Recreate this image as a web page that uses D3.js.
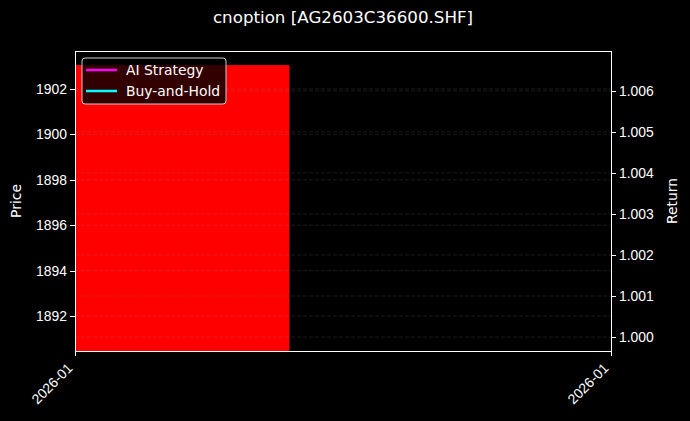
<!DOCTYPE html>
<html>
<head>
<meta charset="utf-8">
<script src="https://cdn.jsdelivr.net/npm/d3@7"></script>
<style>
  body { margin: 0; background: #000; }
  svg { display: block; font-family: "DejaVu Sans", sans-serif; }
  .axis path, .axis line { stroke: #fff; shape-rendering: crispEdges; }
  .axis text { fill: #fff; font-size: 13.9px; }
</style>
</head>
<body>
<div id="chart"></div>
<script>
// data
var title = 'cnoption [AG2603C36600.SHF]';
var dates = ['2026-01-05'];
var openPx = [1903.05];
var closePx = [1888.0];
var aiStrategy = [1.0];
var buyHold = [1.0];
var xRange = ['2026-01-05', '2026-01-06'];
var priceRange = [1890.46, 1903.67];
var returnRange = [0.99966, 1.00697];
var priceTicks = [1892, 1894, 1896, 1898, 1900, 1902];
var returnTicks = [1.000, 1.001, 1.002, 1.003, 1.004, 1.005, 1.006];
var seriesNames = ['AI Strategy', 'Buy-and-Hold'];
var seriesColors = ['#ff00ff', '#00ffff'];

var W = 690, H = 421;
var margin = {top: 51, right: 79, bottom: 70, left: 75},
    width = W - margin.left - margin.right,
    height = H - margin.top - margin.bottom;

var parse = d3.timeParse('%Y-%m-%d');
var candles = dates.map(function(d, i){
  return {date: parse(d), open: openPx[i], close: closePx[i]};
});

var x = d3.scaleTime().range([0, width]).domain(xRange.map(parse));
var y = d3.scaleLinear().range([height, 0]).domain(priceRange);
var y2 = d3.scaleLinear().range([height, 0]).domain(returnRange);

var svg = d3.select('#chart').append('svg')
    .attr('width', W)
    .attr('height', H);

svg.append('rect').attr('width', W).attr('height', H).attr('fill', '#000');

var g = svg.append('g')
    .attr('transform', 'translate(' + margin.left + ',' + margin.top + ')');

g.append('clipPath').attr('id', 'clip')
  .append('rect').attr('width', width).attr('height', height);

var plot = g.append('g').attr('clip-path', 'url(#clip)');

// candle bodies, 0.8 day wide
var halfDay = 0.4 * 24 * 3600 * 1000;
plot.selectAll('.candle')
    .data(candles)
  .enter().append('rect')
    .attr('class', 'candle')
    .attr('x', function(d){ return x(new Date(+d.date - halfDay)); })
    .attr('width', function(d){ return x(new Date(+d.date + halfDay)) - x(new Date(+d.date - halfDay)); })
    .attr('y', function(d){ return y(Math.max(d.open, d.close)); })
    .attr('height', function(d){ return Math.abs(y(d.open) - y(d.close)); })
    .attr('fill', function(d){ return d.close < d.open ? '#ff0000' : '#00c000'; });

// grids (both axes)
plot.selectAll('.grid1')
    .data(priceTicks)
  .enter().append('line')
    .attr('x1', 0).attr('x2', width)
    .attr('y1', function(d){ return y(d); }).attr('y2', function(d){ return y(d); })
    .attr('stroke', 'gray').attr('stroke-opacity', 0.3)
    .attr('stroke-width', 0.7).attr('stroke-dasharray', '4,2');

plot.selectAll('.grid2')
    .data(returnTicks)
  .enter().append('line')
    .attr('x1', 0).attr('x2', width)
    .attr('y1', function(d){ return y2(d); }).attr('y2', function(d){ return y2(d); })
    .attr('stroke', 'gray').attr('stroke-opacity', 0.3)
    .attr('stroke-width', 0.7).attr('stroke-dasharray', '4,2');

// return lines (single point here, so nothing visible)
[aiStrategy, buyHold].forEach(function(vals, k){
  var line = d3.line()
      .x(function(d, i){ return x(candles[i].date); })
      .y(function(d){ return y2(d); });
  plot.append('path').datum(vals)
      .attr('d', line)
      .attr('fill', 'none')
      .attr('stroke', seriesColors[k])
      .attr('stroke-width', 2);
});

// frame
g.append('rect')
    .attr('x', 0.5).attr('y', 0.5)
    .attr('width', width).attr('height', height)
    .attr('fill', 'none').attr('stroke', '#fff').attr('stroke-width', 1)
    .style('shape-rendering', 'crispEdges');

var xAxis = d3.axisBottom(x)
    .tickValues(xRange.map(parse))
    .tickFormat(d3.timeFormat('%Y-%m'))
    .tickSizeOuter(0).tickSize(5);

var gx = g.append('g')
    .attr('class', 'x axis')
    .attr('transform', 'translate(0,' + height + ')')
    .call(xAxis);
gx.select('.domain').remove();
gx.selectAll('text')
    .style('text-anchor', 'end')
    .attr('x', 0).attr('y', 0).attr('dy', 0)
    .attr('transform', 'translate(-2,18) rotate(-45)');

var gy = g.append('g')
    .attr('class', 'y axis')
    .call(d3.axisLeft(y).tickValues(priceTicks).tickFormat(d3.format('d')).tickSize(5).tickSizeOuter(0));
gy.select('.domain').remove();
gy.selectAll('text').attr('x', -8);

var gy2 = g.append('g')
    .attr('class', 'y axis')
    .attr('transform', 'translate(' + width + ',0)')
    .call(d3.axisRight(y2).tickValues(returnTicks).tickFormat(d3.format('.3f')).tickSize(5).tickSizeOuter(0));
gy2.select('.domain').remove();
gy2.selectAll('text').attr('x', 8);

// labels
svg.append('text')
    .attr('x', margin.left + width / 2).attr('y', 23)
    .attr('text-anchor', 'middle')
    .attr('fill', '#fff').style('font-size', '16.7px')
    .text(title);

svg.append('text')
    .attr('transform', 'translate(21,' + (margin.top + height / 2) + ') rotate(-90)')
    .attr('text-anchor', 'middle')
    .attr('fill', '#fff').style('font-size', '13.9px')
    .text('Price');

svg.append('text')
    .attr('transform', 'translate(677,' + (margin.top + height / 2) + ') rotate(-90)')
    .attr('text-anchor', 'middle')
    .attr('fill', '#fff').style('font-size', '13.9px')
    .text('Return');

// legend
var leg = g.append('g').attr('transform', 'translate(7,7)');
leg.append('rect')
    .attr('width', 144).attr('height', 46)
    .attr('rx', 3).attr('ry', 3)
    .attr('fill', '#000').attr('fill-opacity', 0.8)
    .attr('stroke', '#ccc').attr('stroke-width', 1);

var item = leg.selectAll('.item')
    .data(seriesNames)
  .enter().append('g')
    .attr('transform', function(d, i){ return 'translate(0,' + (12 + i * 21) + ')'; });
item.append('line')
    .attr('x1', 4).attr('x2', 35)
    .attr('stroke', function(d, i){ return seriesColors[i]; })
    .attr('stroke-width', 2.5);
item.append('text')
    .attr('x', 44).attr('dy', '0.36em')
    .attr('fill', '#fff').style('font-size', '13.9px')
    .text(function(d){ return d; });
</script>
</body>
</html>
